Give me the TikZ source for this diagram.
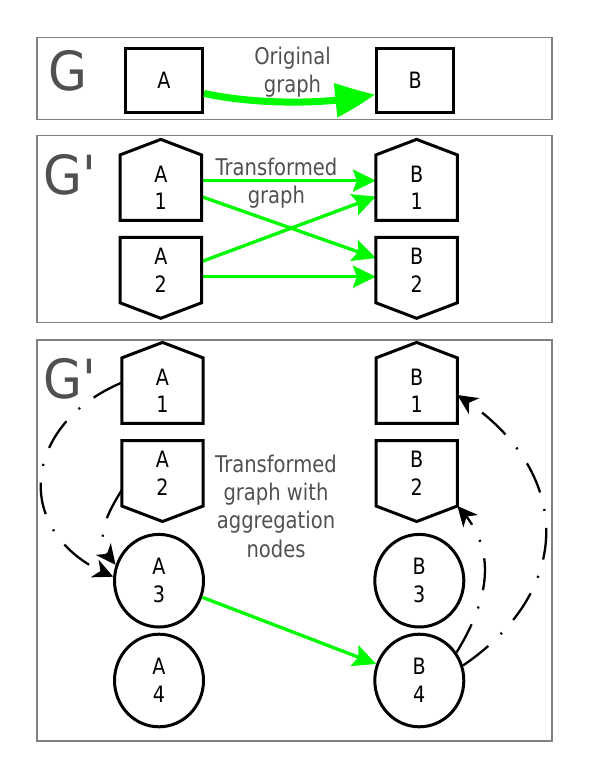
\documentclass[tikz,border=0pt]{standalone}
\usepackage{fontspec}
\setmainfont{DejaVu Sans}[FakeStretch=0.85]
\newfontfamily\gfont{DejaVu Sans}[FakeStretch=0.93]
\usetikzlibrary{arrows.meta,bending,shapes.geometric}
\definecolor{grn}{RGB}{0,250,0}
\definecolor{panelgray}{RGB}{128,128,128}
\definecolor{textgray}{RGB}{80,80,80}
\tikzset{
  panel/.style={draw=panelgray, line width=1.3pt},
  nodefont/.style={font=\fontsize{22.5}{27.5}\selectfont, align=center, inner sep=0pt},
  boxnode/.style={nodefont, draw, line width=3pt, minimum width=77.5pt, minimum height=64.3pt},
  housenode/.style={nodefont, minimum width=81pt, minimum height=65pt},
  circnode/.style={nodefont, ellipse, draw, line width=3pt, minimum width=89pt, minimum height=92.6pt},
  housepath/.style={line width=3pt, line join=miter},
  greenarrow/.style={draw=grn, line width=3.3pt, -{Stealth[length=23pt,width=22pt,inset=4pt]}},
  bigarrow/.style={draw=grn, line width=7pt, -{Triangle[length=38pt,width=33pt,bend]}},
  aggarrow/.style={line width=2.3pt, dash pattern=on 32pt off 17pt on 2pt off 17pt, -{Stealth[length=20pt,width=19pt,inset=6pt]}},
  bigletter/.style={font=\gfont\fontsize{54}{54}\selectfont, text=textgray, inner sep=0pt, anchor=base west},
  caption/.style={font=\fontsize{23}{28.3}\selectfont, text=textgray, align=center, inner sep=0pt, anchor=north},
}
\begin{document}
\begin{tikzpicture}[x=1pt,y=-1pt]
\useasboundingbox (0,0) rectangle (598,767);
% panels
\draw[panel] (37,37.3) rectangle (552,119.3);
\draw[panel] (37,135.7) rectangle (552,322.7);
\draw[panel] (37,340) rectangle (552,741);

% ---------- panel 1
\node[bigletter] (g1) at (48.5,91) {G};
\node[boxnode] (A) at (163.8,80.4) {A};
\node[boxnode] (B) at (415.2,80.4) {B};
\node[caption] (t1) at (292.5,46.5) {Original\\graph};
\draw[bigarrow] ([yshift=-13pt]A.east) .. controls (254,104.3) and (325,105.3) .. ([yshift=-14pt]B.west);

% ---------- panel 2
\node[bigletter] (g2) at (43.5,194.5) {G'};
\node[housenode] (a1) at (160.8,187.6) {A\\1};
\node[housenode] (a2) at (160.8,270.1) {A\\2};
\node[housenode] (b1) at (416.6,187.6) {B\\1};
\node[housenode] (b2) at (416.6,270.1) {B\\2};
\node[caption] (t2) at (276.4,157.5) {Transformed\\graph};
\draw[greenarrow] ([yshift=7pt]a1.east) -- ([yshift=7pt]b1.west);
\draw[greenarrow] ([yshift=-9pt]a1.east) -- ([yshift=12pt]b2.west);
\draw[greenarrow] ([yshift=8.5pt]a2.east) -- ([yshift=-9pt]b1.west);
\draw[greenarrow] ([yshift=-6.6pt]a2.east) -- ([yshift=-6.6pt]b2.west);

% ---------- panel 3
\node[bigletter] (g3) at (43.2,398) {G'};
\node[housenode] (c1) at (162.5,390.6) {A\\1};
\node[housenode] (c2) at (162.5,473.3) {A\\2};
\node[housenode] (d1) at (416.7,390.6) {B\\1};
\node[housenode] (d2) at (416.7,473.3) {B\\2};
\node[circnode] (c3) at (159,580.7) {A\\3};
\node[circnode] (c4) at (159,680.5) {A\\4};
\node[circnode] (d3) at (419.3,580.7) {B\\3};
\node[circnode] (d4) at (419.3,680.5) {B\\4};
\node[caption] (t3) at (276,454.5) {Transformed\\graph with\\aggregation\\nodes};

% house outlines (pointing up / down)
\foreach \n in {a1,b1,c1,d1}
  \draw[housepath] (\n.south west) -- (\n.north west) -- ([yshift=15.5pt]\n.north) -- (\n.north east) -- (\n.south east) -- cycle;
\foreach \n in {a2,b2,c2,d2}
  \draw[housepath] (\n.north west) -- (\n.south west) -- ([yshift=-15.5pt]\n.south) -- (\n.south east) -- (\n.north east) -- cycle;

\draw[greenarrow] (c3) -- (d4);
\draw[aggarrow] ([yshift=8pt]c1.west) .. controls (19.8,425.6) and (10.7,536.3) .. (c3.175);
\draw[aggarrow] ([yshift=-16.7pt]c2.west) .. controls (102.9,520.5) and (93.5,542.8) .. (c3.160);
\draw[aggarrow] (d4.37) .. controls (488.6,599.9) and (499.5,549.3) .. (d2.south east);
\draw[aggarrow] (d4.19) .. controls (576.4,588.7) and (573.4,467.9) .. ([yshift=-4.4pt]d1.east);
\end{tikzpicture}
\end{document}
